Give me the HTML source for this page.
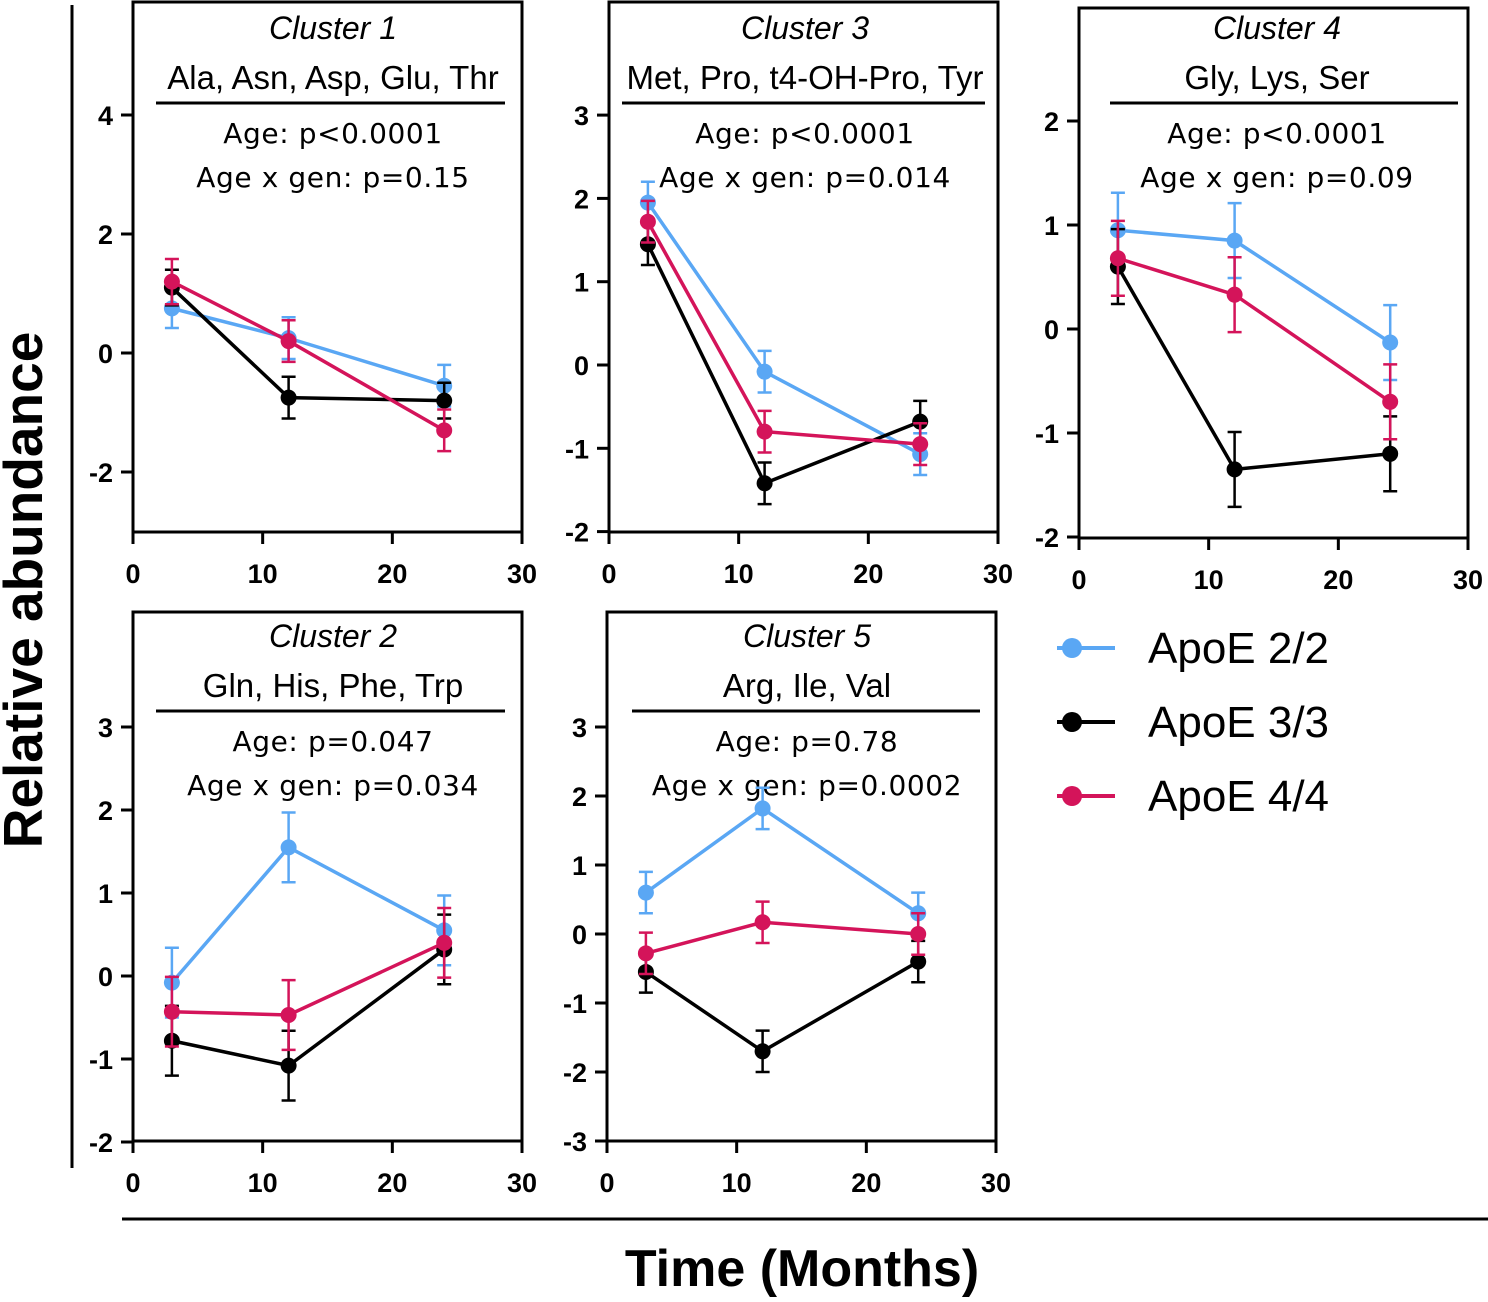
<!DOCTYPE html>
<html><head><meta charset="utf-8"><style>
html,body{margin:0;padding:0;background:#fff}
svg text{font-family:"Liberation Sans",Arial,sans-serif}
.t{font-style:italic;font-size:32px}
.s{font-size:33px}
.a{font-family:"DejaVu Sans",sans-serif !important;font-size:28px;letter-spacing:0.6px}
.k{font-size:27px;font-weight:bold}
</style></head><body>
<svg id="c" width="1488" height="1297" xmlns="http://www.w3.org/2000/svg"></svg>
<script>
const svg=document.getElementById('c');let h='';
const B='#5aa7f4',K='#000',P='#d4145a';
const panels=[
{x0:133,x1:522,top:2,bot:532,y0:353,s:59.5,ticks:[4,2,0,-2],cx:333,t1:28,ul:[156,505,103],
 title:'Cluster 1',sub:'Ala, Asn, Asp, Glu, Thr',age:'Age: p<0.0001',ax:'Age x gen: p=0.15',
 d:[[B,[0.75,0.25,-0.55],[0.33,0.35,0.35]],[K,[1.1,-0.75,-0.8],[0.3,0.35,0.3]],[P,[1.2,0.2,-1.3],[0.38,0.35,0.35]]]},
{x0:609,x1:998,top:2,bot:532,y0:365,s:83.3,ticks:[3,2,1,0,-1,-2],cx:805,t1:28,ul:[622,985,103],
 title:'Cluster 3',sub:'Met, Pro, t4-OH-Pro, Tyr',age:'Age: p<0.0001',ax:'Age x gen: p=0.014',
 d:[[B,[1.95,-0.08,-1.07],[0.25,0.25,0.25]],[K,[1.45,-1.42,-0.68],[0.25,0.25,0.25]],[P,[1.72,-0.8,-0.95],[0.25,0.25,0.25]]]},
{x0:1079,x1:1468,top:8,bot:538,y0:329,s:104,ticks:[2,1,0,-1,-2],cx:1277,t1:28,ul:[1110,1458,103],
 title:'Cluster 4',sub:'Gly, Lys, Ser',age:'Age: p<0.0001',ax:'Age x gen: p=0.09',
 d:[[B,[0.95,0.85,-0.13],[0.36,0.36,0.36]],[K,[0.6,-1.35,-1.2],[0.36,0.36,0.36]],[P,[0.68,0.33,-0.7],[0.36,0.36,0.36]]]},
{x0:133,x1:522,top:612,bot:1141,y0:976,s:83,ticks:[3,2,1,0,-1,-2],cx:333,t1:636,ul:[156,505,711],
 title:'Cluster 2',sub:'Gln, His, Phe, Trp',age:'Age: p=0.047',ax:'Age x gen: p=0.034',
 d:[[B,[-0.08,1.55,0.55],[0.42,0.42,0.42]],[K,[-0.78,-1.08,0.32],[0.42,0.42,0.42]],[P,[-0.43,-0.47,0.4],[0.42,0.42,0.42]]]},
{x0:607,x1:996,top:612,bot:1141,y0:934,s:69,ticks:[3,2,1,0,-1,-2,-3],cx:807,t1:636,ul:[632,980,711],
 title:'Cluster 5',sub:'Arg, Ile, Val',age:'Age: p=0.78',ax:'Age x gen: p=0.0002',
 d:[[B,[0.6,1.82,0.3],[0.3,0.3,0.3]],[K,[-0.55,-1.7,-0.4],[0.3,0.3,0.3]],[P,[-0.28,0.17,0.0],[0.3,0.3,0.3]]]}
];
const xs=[3,12,24];
for(const p of panels){
 const X=v=>p.x0+(p.x1-p.x0)*v/30,Y=v=>p.y0-p.s*v;
 h+=`<rect x="${p.x0}" y="${p.top}" width="${p.x1-p.x0}" height="${p.bot-p.top}" fill="none" stroke="#000" stroke-width="3"/>`;
 for(const t of p.ticks){h+=`<line x1="${p.x0-12}" x2="${p.x0}" y1="${Y(t)}" y2="${Y(t)}" stroke="#000" stroke-width="3"/><text class="k" x="${p.x0-20}" y="${Y(t)+10}" text-anchor="end">${t}</text>`;}
 for(const t of [0,10,20,30]){h+=`<line x1="${X(t)}" x2="${X(t)}" y1="${p.bot}" y2="${p.bot+12}" stroke="#000" stroke-width="3"/><text class="k" x="${X(t)}" y="${p.bot+51}" text-anchor="middle">${t}</text>`;}
 h+=`<text class="t" x="${p.cx}" y="${p.t1+11}" text-anchor="middle">${p.title}</text>`;
 h+=`<text class="s" x="${p.cx}" y="${p.t1+61}" text-anchor="middle">${p.sub}</text>`;
 h+=`<line x1="${p.ul[0]}" x2="${p.ul[1]}" y1="${p.ul[2]}" y2="${p.ul[2]}" stroke="#000" stroke-width="3"/>`;
 h+=`<text class="a" x="${p.cx}" y="${p.ul[2]+40}" text-anchor="middle">${p.age.replace('<','&lt;')}</text>`;
 h+=`<text class="a" x="${p.cx}" y="${p.ul[2]+84}" text-anchor="middle">${p.ax}</text>`;
 for(const [c,v,e] of p.d){
  let pts=xs.map((x,i)=>X(x)+','+Y(v[i])).join(' ');
  for(let i=0;i<3;i++){const x=X(xs[i]),a=Y(v[i]+e[i]),b=Y(v[i]-e[i]);
   h+=`<path d="M${x} ${a}V${b}M${x-7} ${a}h14M${x-7} ${b}h14" stroke="${c}" stroke-width="2.5" fill="none"/>`;}
  h+=`<polyline points="${pts}" fill="none" stroke="${c}" stroke-width="3.5"/>`;
  for(let i=0;i<3;i++)h+=`<circle cx="${X(xs[i])}" cy="${Y(v[i])}" r="8" fill="${c}"/>`;
 }
}
h+=`<line x1="72" x2="72" y1="5" y2="1168" stroke="#000" stroke-width="3"/>`;
h+=`<line x1="122" x2="1488" y1="1219" y2="1219" stroke="#000" stroke-width="3"/>`;
h+=`<text x="0" y="0" transform="translate(42,590) rotate(-90)" text-anchor="middle" font-size="55" font-weight="bold">Relative abundance</text>`;
h+=`<text x="802" y="1286" text-anchor="middle" font-size="52" font-weight="bold">Time (Months)</text>`;
[[B,'ApoE 2/2',648],[K,'ApoE 3/3',722],[P,'ApoE 4/4',796]].forEach(([c,t,y])=>{
 h+=`<line x1="1057" x2="1115" y1="${y}" y2="${y}" stroke="${c}" stroke-width="4"/><circle cx="1072" cy="${y}" r="10" fill="${c}"/><text x="1148" y="${y+15}" font-size="44">${t}</text>`;});
svg.innerHTML=h;
</script>
</body></html>
